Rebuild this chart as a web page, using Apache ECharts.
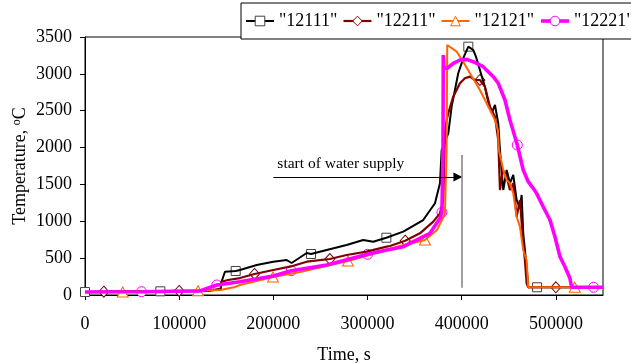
<!DOCTYPE html>
<html>
<head>
<meta charset="utf-8">
<script src="https://cdn.jsdelivr.net/npm/echarts@6/dist/echarts.min.js"></script>
<style>
  html, body { margin: 0; padding: 0; background: #fff; }
  #chart { width: 631px; height: 364px; }
</style>
</head>
<body>
<div id="chart"></div>
<script>
// Temperature histories [time s, temperature °C].
const curve12111 = [
  [0, 40], [80000, 50], [130000, 55], [144000, 80], [145000, 180], [148600, 316],
  [160000, 326], [164500, 339], [182300, 407], [199900, 452], [214100, 475],
  [219400, 434], [235400, 570], [240000, 556], [256600, 610], [277800, 678],
  [295400, 746], [306000, 723], [320000, 777], [337900, 859], [359100, 1017],
  [371600, 1244], [376900, 1515], [378700, 1967], [385700, 2193], [389300, 2555],
  [396300, 3008], [402300, 3234], [407000, 3369], [412200, 3324], [415100, 3234],
  [419300, 3053], [424600, 2826], [428100, 2622], [431800, 2465], [435300, 2578],
  [438800, 2329], [440600, 1967], [444100, 1424], [447700, 1696], [451200, 1519],
  [454700, 1628], [458300, 1289], [461800, 1176], [463600, 1357], [465300, 837],
  [467100, 610], [468900, 384], [470600, 105], [520000, 105]
];
const curve12211 = [
  [0, 40], [20000, 45], [100000, 55], [130000, 58], [144000, 80], [145000, 180],
  [151800, 203], [164500, 230], [180000, 285], [199900, 339], [217600, 384],
  [235400, 452], [260000, 488], [277800, 543], [299000, 588], [320300, 656],
  [323800, 665], [340000, 737], [355600, 837], [369800, 995], [376900, 1108],
  [380400, 1289], [382200, 2193], [384000, 2374], [385700, 2465], [391000, 2691],
  [398100, 2872], [403400, 2940], [408700, 2962], [414000, 2917], [419300, 2917],
  [424600, 2826], [430000, 2555], [435300, 2419], [438800, 2103], [440600, 1424],
  [443700, 1696], [447700, 1605], [451200, 1424], [454700, 1515], [458300, 1062],
  [461800, 1289], [465000, 746], [467100, 475], [468900, 159], [470600, 105],
  [520000, 105]
];
const curve12121 = [
  [0, 40], [40000, 40], [120000, 58], [144000, 68], [159200, 108], [164500, 136],
  [199600, 244], [228200, 312], [279200, 461], [313200, 583], [334400, 665],
  [361000, 746], [373700, 882], [380000, 1045], [382200, 1108], [384000, 1967],
  [384600, 3392], [394600, 3301], [401600, 3165], [408700, 3008], [419300, 2781],
  [430000, 2510], [435300, 2374], [438400, 2239], [439500, 1967], [444100, 1696],
  [447700, 1560], [451200, 1515], [454700, 1379], [458300, 1062], [461800, 927],
  [465300, 610], [468900, 475], [470600, 105], [520000, 105]
];
const curve12221 = [
  [0, 40], [60000, 45], [122000, 54], [140000, 136], [164500, 180], [199900, 258],
  [219000, 330], [256600, 407], [300000, 552], [320300, 610], [337900, 655],
  [366300, 837], [376900, 1040], [379000, 1122], [380100, 1967], [380400, 3256],
  [381100, 3080], [384600, 3076], [391000, 3143], [398100, 3188], [405200, 3197],
  [412200, 3165], [422800, 3097], [433500, 2962], [438800, 2872], [445900, 2645],
  [451200, 2374], [459000, 2035], [465300, 1696], [470600, 1537], [475900, 1447],
  [479500, 1379], [486500, 1198], [493700, 1017], [499000, 791], [504300, 520],
  [509600, 384], [514900, 226], [516700, 105], [550000, 105]
];

// Marker points on each curve.
const marks12111 = [[0, 40], [80000, 50], [160000, 326], [240000, 556], [320000, 777], [407000, 3369], [480000, 105]];
const marks12211 = [[20000, 45], [100000, 55], [180000, 285], [260000, 488], [340000, 737], [419300, 2917], [500000, 105]];
const marks12121 = [[40000, 40], [120000, 58], [199600, 244], [279200, 461], [361000, 746], [520000, 105]];
const marks12221 = [[60000, 45], [140000, 136], [219000, 330], [300000, 552], [379000, 1122], [459000, 2035], [540000, 105]];

const seriesNames = ['"12111"', '"12211"', '"12121"', '"12221"'];
const timeTicks = [0, 100000, 200000, 300000, 400000, 500000];

// Annotation anchors in data units.
const supplyArrow = [[200000, 1600], [396000, 1600]];
const supplyLine = [[400000, 1900], [400000, 100]];
const supplyText = 'start of water supply';

const FONT = 'Liberation Serif';

const specs = [
  { name: seriesNames[0], data: curve12111, marks: marks12111, color: '#000000', width: 2, symbol: 'rect', size: 9, border: '#404040' },
  { name: seriesNames[1], data: curve12211, marks: marks12211, color: '#800000', width: 2.2, symbol: 'diamond', size: [10, 11], border: '#800000' },
  { name: seriesNames[2], data: curve12121, marks: marks12121, color: '#FF6600', width: 2, symbol: 'triangle', size: [11, 10], border: '#FF6600' },
  { name: seriesNames[3], data: curve12221, marks: marks12221, color: '#FF00FF', width: 3.6, symbol: 'circle', size: 10, border: '#FF00FF' },
];

const series = [];
specs.forEach((s) => {
  series.push({
    name: s.name,
    type: 'line',
    data: s.data,
    showSymbol: false,
    symbol: s.symbol,
    symbolSize: s.size,
    lineStyle: { color: s.color, width: s.width },
    itemStyle: { color: '#fff', borderColor: s.border, borderWidth: 1 },
    emphasis: { disabled: true },
    animation: false,
  });
  series.push({
    name: s.name + ' marks',
    type: 'scatter',
    data: s.marks,
    symbol: s.symbol,
    symbolSize: s.size,
    clip: false,
    itemStyle: { color: '#fff', borderColor: s.border, borderWidth: 1, opacity: 1 },
    emphasis: { disabled: true },
    animation: false,
  });
});

// Arrow, vertical marker and caption for the water supply start.
series.push({
  name: 'annotation',
  type: 'line',
  data: [],
  silent: true,
  animation: false,
  markLine: {
    silent: true,
    animation: false,
    symbol: 'none',
    data: [
      [
        { coord: supplyArrow[0], symbol: 'none',
          lineStyle: { color: '#000', width: 1, type: 'solid' },
          label: { show: true, position: 'insideStartTop', formatter: supplyText,
                   color: '#000', fontFamily: FONT, fontSize: 15.5, distance: [4, 5] } },
        { coord: supplyArrow[1], symbol: 'triangle', symbolSize: [9, 9] },
      ],
      [
        { coord: supplyLine[0], symbol: 'none',
          lineStyle: { color: '#7f7f7f', width: 1.5, type: 'solid' },
          label: { show: false } },
        { coord: supplyLine[1], symbol: 'none' },
      ],
    ],
  },
});

const chart = echarts.init(document.getElementById('chart'), null, { renderer: 'canvas' });
chart.setOption({
  animation: false,
  backgroundColor: '#fff',
  grid: {
    left: 85, right: 28, top: 37, bottom: 69,
    show: true, borderColor: '#000', borderWidth: 1, backgroundColor: 'transparent',
    outerBoundsMode: 'none',
  },
  legend: {
    data: specs.map((s) => ({
      name: s.name,
      itemStyle: { color: '#fff', borderColor: s.border, borderWidth: 1 },
      lineStyle: { color: s.color, width: s.width },
    })),
    left: 241, top: 3, width: 440,
    orient: 'horizontal',
    padding: [9, 6, 9, 4],
    itemWidth: 28, itemHeight: 12, itemGap: 5,
    backgroundColor: '#fff',
    borderColor: '#000', borderWidth: 1, borderRadius: 0,
    selectedMode: false,
    textStyle: { color: '#000', fontFamily: FONT, fontSize: 18 },
  },
  xAxis: {
    type: 'value',
    min: 0, max: 550000, interval: 100000,
    name: 'Time, s', nameLocation: 'middle', nameGap: 51, nameMoveOverlap: false,
    nameTextStyle: { color: '#000', fontFamily: FONT, fontSize: 18 },
    axisLine: { show: true, onZero: false, lineStyle: { color: '#000', width: 1 } },
    axisTick: { show: true, inside: false, length: 5, customValues: timeTicks, lineStyle: { color: '#000' } },
    axisLabel: { color: '#000', fontFamily: FONT, fontSize: 18, margin: 20,
                 customValues: timeTicks, formatter: (v) => String(v) },
    splitLine: { show: false },
  },
  yAxis: {
    type: 'value',
    min: 0, max: 3500, interval: 500,
    name: 'Temperature, {s|o}C', nameLocation: 'middle', nameGap: 56, nameMoveOverlap: false,
    nameTextStyle: { color: '#000', fontFamily: FONT, fontSize: 18,
                     rich: { s: { fontFamily: FONT, fontSize: 12, verticalAlign: 'top', color: '#000' } } },
    axisLine: { show: true, onZero: false, lineStyle: { color: '#000', width: 1 } },
    axisTick: { show: true, inside: false, length: 5, lineStyle: { color: '#000' } },
    axisLabel: { color: '#000', fontFamily: FONT, fontSize: 18, margin: 13, formatter: (v) => String(v) },
    splitLine: { show: false },
  },
  series: series,
});
</script>
</body>
</html>
